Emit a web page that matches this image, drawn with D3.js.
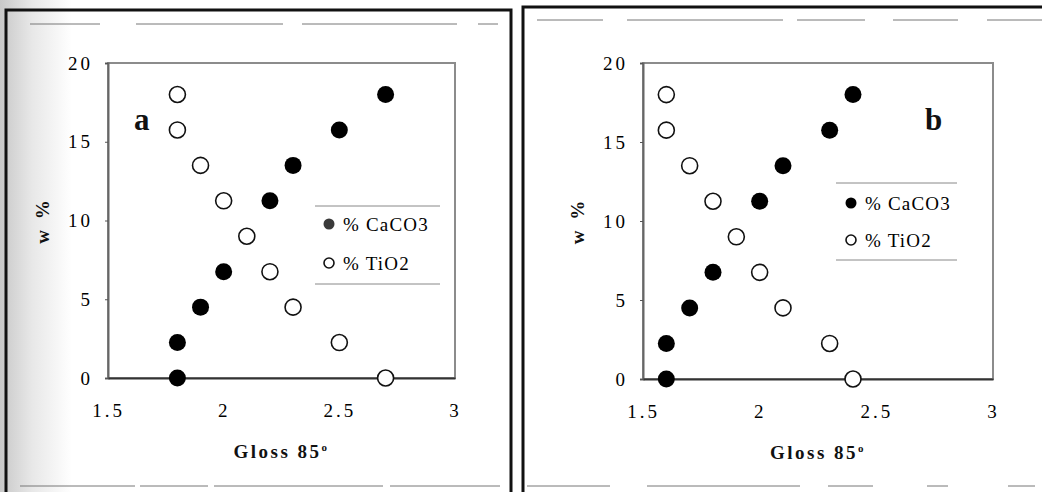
<!DOCTYPE html>
<html><head><meta charset="utf-8">
<script src="https://cdn.jsdelivr.net/npm/d3@7/dist/d3.min.js"></script>
<style>html,body{margin:0;padding:0;background:#fff;}svg{display:block;}
svg text{font-family:"Liberation Serif","Times New Roman",serif;}</style>
</head><body>
<svg id="c" width="1042" height="492"></svg>
<script>
// ---- data ----
const xTicks = [1.5, 2, 2.5, 3];
const xTickLabels = ["1.5", "2", "2.5", "3"];
const yTicks = [0, 5, 10, 15, 20];
const yTickLabels = ["0", "5", "10", "15", "20"];
const seriesNames = ["% CaCO3", "% TiO2"];
const panelLabels = ["a", "b"];
const xTitle = "Gloss 85";
const yTitle = "w %";

const aCaCO3Gloss = [1.8, 1.8, 1.9, 2.0, 2.2, 2.3, 2.5, 2.7];
const aCaCO3W     = [0, 2.25, 4.5, 6.75, 11.25, 13.5, 15.75, 18];
const aTiO2Gloss  = [1.8, 1.8, 1.9, 2.0, 2.1, 2.2, 2.3, 2.5, 2.7];
const aTiO2W      = [18, 15.75, 13.5, 11.25, 9, 6.75, 4.5, 2.25, 0];

const bCaCO3Gloss = [1.6, 1.6, 1.7, 1.8, 2.0, 2.1, 2.3, 2.4];
const bCaCO3W     = [0, 2.25, 4.5, 6.75, 11.25, 13.5, 15.75, 18];
const bTiO2Gloss  = [1.6, 1.6, 1.7, 1.8, 1.9, 2.0, 2.1, 2.3, 2.4];
const bTiO2W      = [18, 15.75, 13.5, 11.25, 9, 6.75, 4.5, 2.25, 0];

const svg = d3.select("#c");
const serif = "Liberation Serif";

// background scan strip
const defs = svg.append("defs");
const lg = defs.append("linearGradient").attr("id","strip").attr("x1","0").attr("x2","1");
lg.append("stop").attr("offset","0").attr("stop-color","#c8c8c8");
lg.append("stop").attr("offset","0.45").attr("stop-color","#e8e8e8");
lg.append("stop").attr("offset","1").attr("stop-color","#ffffff");
svg.append("rect").attr("x",0).attr("y",0).attr("width",72).attr("height",492).attr("fill","url(#strip)");

// outer frames
const frame = svg.append("g").attr("fill","none");
frame.append("path").attr("d","M6,492 V10 H511 V492").attr("stroke","#111").attr("stroke-width",3);
frame.append("path").attr("d","M523,492 V7 H1042").attr("stroke","#111").attr("stroke-width",3);

// scan dashes
const dashes = [
  [24,[[30,100],[136,283],[302,457],[478,498]]],
  [486,[[20,135],[140,208],[214,383],[390,500]]],
  [20,[[537,603],[627,783],[797,865],[893,958],[987,1042]]],
  [486,[[527,610],[647,800],[828,873],[927,948],[1008,1035]]]
];
dashes.forEach(([y,segs]) => segs.forEach(([x1,x2]) =>
  svg.append("line").attr("x1",x1).attr("x2",x2).attr("y1",y).attr("y2",y)
     .attr("stroke","#777").attr("stroke-width",1)));

const panels = [
  {label: panelLabels[0], x0:108, x1:455, y0:63, y1:378, lab:[134,130],
   ca:[aCaCO3Gloss,aCaCO3W], ti:[aTiO2Gloss,aTiO2W],
   leg:{x1:315,x2:440,yt:206,yb:284,mx:329,y1:224,y2:263,tx:343,caFill:"#3a3a3a"}},
  {label: panelLabels[1], x0:643, x1:993, y0:63, y1:379, lab:[925,130],
   ca:[bCaCO3Gloss,bCaCO3W], ti:[bTiO2Gloss,bTiO2W],
   leg:{x1:836,x2:957,yt:183,yb:260,mx:851,y1:203,y2:240,tx:865,caFill:"#000"}}
];

panels.forEach(p => {
  const x = d3.scaleLinear().domain([1.5,3]).range([p.x0,p.x1]);
  const y = d3.scaleLinear().domain([0,20]).range([p.y1,p.y0]);
  const g = svg.append("g");

  // plot frame
  g.append("rect").attr("x",p.x0).attr("y",p.y0).attr("width",p.x1-p.x0).attr("height",p.y1-p.y0)
    .attr("fill","none").attr("stroke","#8c8c8c").attr("stroke-width",2);

  // axes
  const ya = g.append("g").attr("transform",`translate(${p.x0},0)`)
    .call(d3.axisLeft(y).tickValues(yTicks).tickFormat((d,i)=>yTickLabels[i]).tickSize(3).tickPadding(12));
  const xa = g.append("g").attr("transform",`translate(0,${p.y1})`)
    .call(d3.axisBottom(x).tickValues(xTicks).tickFormat((d,i)=>xTickLabels[i]).tickSize(0).tickPadding(26));
  [ya,xa].forEach(a => {
    a.attr("font-family",serif);
    a.select(".domain").attr("stroke","#666").attr("stroke-width",2);
    a.selectAll(".tick line").attr("stroke","#555");
    a.selectAll("text").attr("font-family",serif).attr("font-size",19).attr("fill","#000")
      .attr("letter-spacing","3px");
  });
  xa.select(".domain").attr("stroke","#333");

  // axis titles
  const xt = g.append("text").attr("x",(p.x0+p.x1)/2).attr("y",p.y1+80).attr("text-anchor","middle")
    .attr("font-family",serif).attr("font-weight","bold").attr("font-size",19)
    .attr("letter-spacing","2.5px").attr("fill","#111").text(xTitle);
  xt.append("tspan").attr("font-size",11).attr("dy",-7).text("o");

  g.append("text").attr("transform",`translate(${p.x0-59},${(p.y0+p.y1)/2}) rotate(-90)`)
    .attr("text-anchor","middle").attr("font-family",serif).attr("font-weight","bold")
    .attr("font-size",19).attr("letter-spacing","3px").attr("fill","#111").text(yTitle);

  // panel label
  g.append("text").attr("x",p.lab[0]).attr("y",p.lab[1]).attr("font-family",serif)
    .attr("font-weight","bold").attr("font-size",31).attr("fill","#111").text(p.label);

  // legend
  const L = p.leg;
  g.append("line").attr("x1",L.x1).attr("x2",L.x2).attr("y1",L.yt).attr("y2",L.yt).attr("stroke","#888");
  g.append("line").attr("x1",L.x1).attr("x2",L.x2).attr("y1",L.yb).attr("y2",L.yb).attr("stroke","#888");
  g.append("circle").attr("cx",L.mx).attr("cy",L.y1).attr("r",5.5).attr("fill",L.caFill);
  g.append("circle").attr("cx",L.mx).attr("cy",L.y2).attr("r",5).attr("fill","#fff").attr("stroke","#111").attr("stroke-width",1.6);
  [[L.y1,seriesNames[0]],[L.y2,seriesNames[1]]].forEach(([yy,t]) =>
    g.append("text").attr("x",L.tx).attr("y",yy+7).attr("font-family",serif).attr("font-size",19)
      .attr("letter-spacing","1.2px").attr("fill","#000").text(t));

  // points
  const ti = p.ti[0].map((v,i)=>({x:v,y:p.ti[1][i]}));
  const ca = p.ca[0].map((v,i)=>({x:v,y:p.ca[1][i]}));
  g.append("g").selectAll("circle").data(ti).join("circle")
    .attr("cx",d=>x(d.x)).attr("cy",d=>y(d.y)).attr("r",8)
    .attr("fill","#fff").attr("stroke","#111").attr("stroke-width",1.6);
  g.append("g").selectAll("circle").data(ca).join("circle")
    .attr("cx",d=>x(d.x)).attr("cy",d=>y(d.y)).attr("r",8.5).attr("fill","#000");
});
</script>
</body></html>
